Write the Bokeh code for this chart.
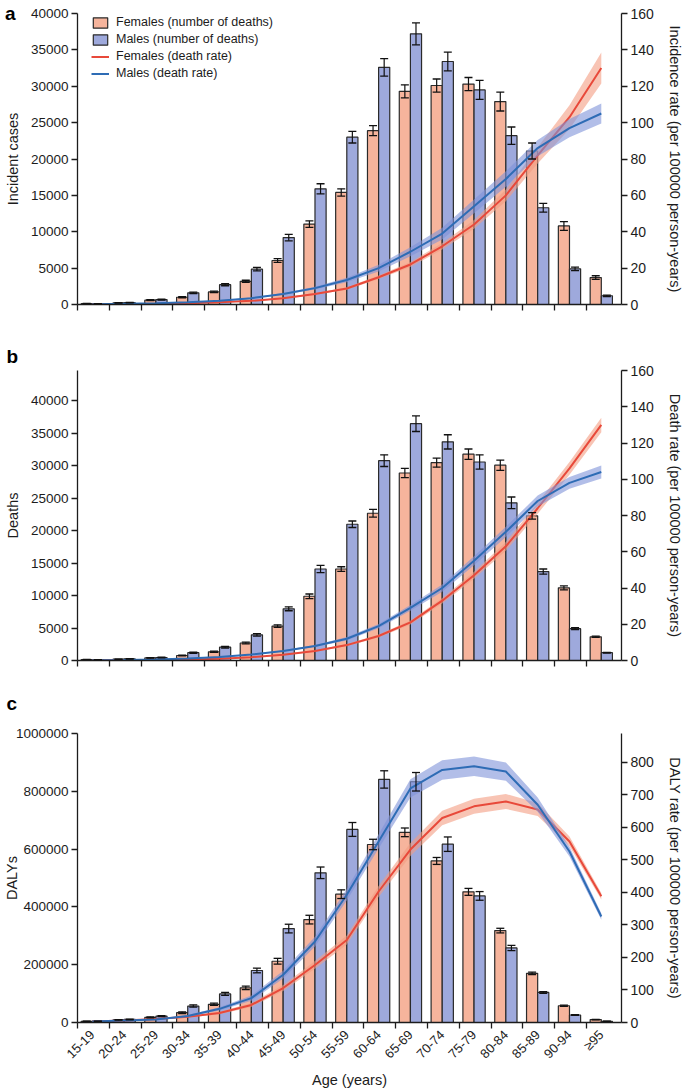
import numpy as np
from bokeh.plotting import figure
from bokeh.models import (ColumnDataSource, Range1d, LinearAxis, FixedTicker,
                          NumeralTickFormatter, CustomJSTickFormatter, Whisker,
                          TeeHead, Legend, LegendItem)
from bokeh.layouts import column
from bokeh.embed import file_html
from bokeh.resources import INLINE

ages = ["15-19", "20-24", "25-29", "30-34", "35-39", "40-44", "45-49", "50-54",
        "55-59", "60-64", "65-69", "70-74", "75-79", "80-84", "85-89", "90-94", "≥95"]

# Panel a: incident cases and incidence rate
inc_f = [120, 220, 600, 1000, 1730, 3180, 6050, 11050, 15400, 23900, 29300, 30100, 30300, 27900, 21100, 10800, 3700]
inc_f_err = [20, 30, 50, 70, 100, 150, 250, 450, 500, 700, 900, 900, 900, 1300, 1100, 600, 250]
inc_m = [90, 250, 680, 1600, 2730, 4860, 9200, 15900, 23000, 32600, 37200, 33400, 29500, 23200, 13300, 4900, 1200]
inc_m_err = [20, 30, 60, 100, 150, 250, 450, 700, 800, 1200, 1500, 1300, 1300, 1200, 600, 250, 100]
inc_rate_f = [0.1, 0.2, 0.4, 0.7, 1.2, 2.0, 3.5, 5.8, 8.8, 15, 22, 32, 44, 60, 82, 103, 130]
inc_rate_f_ci = [0.02, 0.03, 0.05, 0.08, 0.12, 0.2, 0.3, 0.5, 0.7, 1.0, 1.4, 1.8, 2.4, 3.2, 4.5, 6.5, 8.5]
inc_rate_m = [0.2, 0.4, 0.7, 1.2, 2.0, 3.5, 5.8, 9.0, 13.5, 20, 29, 39, 54, 69, 86, 97, 105]
inc_rate_m_ci = [0.03, 0.05, 0.08, 0.12, 0.2, 0.3, 0.5, 0.8, 1.2, 1.8, 2.5, 3.2, 3.8, 4.2, 4.5, 5.0, 5.5]

# Panel b: deaths and death rate
dth_f = [150, 200, 400, 770, 1340, 2700, 5300, 9900, 14100, 22700, 28900, 30500, 31800, 30100, 22300, 11200, 3650]
dth_f_err = [20, 25, 40, 60, 90, 130, 200, 350, 350, 600, 700, 700, 800, 800, 500, 300, 100]
dth_m = [100, 250, 450, 1200, 2050, 3950, 7970, 14100, 21000, 30800, 36500, 33700, 30600, 24300, 13700, 4900, 1200]
dth_m_err = [20, 30, 50, 80, 120, 180, 300, 550, 500, 900, 1200, 1100, 1100, 900, 400, 150, 50]
dth_rate_f = [0.1, 0.2, 0.3, 0.6, 1.0, 1.8, 3.2, 5.2, 8.5, 13.5, 21, 33, 47, 63, 84, 106, 130]
dth_rate_f_ci = [0.02, 0.03, 0.04, 0.06, 0.1, 0.15, 0.25, 0.4, 0.6, 0.8, 1.1, 1.5, 1.9, 2.4, 3.0, 3.5, 4.0]
dth_rate_m = [0.1, 0.3, 0.6, 1.1, 1.9, 3.3, 5.3, 8.0, 12, 19, 29, 40, 55, 71, 88, 98, 104]
dth_rate_m_ci = [0.02, 0.04, 0.06, 0.1, 0.15, 0.25, 0.4, 0.6, 0.9, 1.2, 1.6, 2.0, 2.5, 2.8, 3.0, 3.3, 3.6]

# Panel c: DALYs and DALY rate
daly_f = [4000, 9000, 18000, 34000, 63000, 120000, 212000, 356000, 444000, 616000, 658000, 559000, 452000, 318000, 170000, 58000, 10000]
daly_f_err = [500, 800, 1500, 3000, 4000, 6000, 10000, 15000, 15000, 18000, 15000, 12000, 12000, 8000, 4000, 2000, 700]
daly_m = [4500, 10500, 22000, 57000, 99000, 180000, 325000, 518000, 668000, 841000, 833000, 617000, 438000, 258000, 104000, 26000, 4000]
daly_m_err = [500, 900, 2000, 4000, 5000, 8000, 15000, 20000, 24000, 30000, 32000, 25000, 15000, 9000, 3000, 1500, 500]
daly_rate_f = [3, 6, 11, 18, 29, 54, 106, 177, 254, 403, 532, 629, 665, 680, 655, 557, 388]
daly_rate_f_ci = [0.5, 1, 1.5, 2.5, 4, 6, 9, 12, 14, 17, 20, 22, 23, 23, 20, 15, 10]
daly_rate_m = [3, 6, 9, 20, 42, 75, 147, 249, 393, 557, 720, 777, 788, 772, 670, 526, 326]
daly_rate_m_ci = [0.5, 1, 1.5, 3, 5, 8, 12, 15, 18, 22, 28, 30, 30, 28, 22, 15, 10]

FONT = "Liberation Sans"
INK = "#1c1c1c"
F_BAR, M_BAR = "#F6B49C", "#9EA9DC"
F_LINE, M_LINE = "#E8493A", "#2E6CB5"
F_BAND, M_BAND = "#F39C82", "#7F93D8"
F_OFF, M_OFF, L_OFF, BAR_W = 0.29, 0.64, 0.465, 0.35


def style_axis(ax, size="13.5px"):
    ax.axis_line_color = INK
    ax.axis_line_width = 1.3
    ax.major_tick_line_color = INK
    ax.major_tick_line_width = 1.3
    ax.major_tick_out = 6
    ax.major_tick_in = 0
    ax.minor_tick_line_color = None
    ax.major_label_text_font = FONT
    ax.major_label_text_font_size = size
    ax.major_label_text_color = INK
    ax.major_label_standoff = 3
    ax.axis_label_text_font = FONT
    ax.axis_label_text_font_size = "14.5px"
    ax.axis_label_text_font_style = "normal"
    ax.axis_label_text_color = INK


def panel(letter, letter_standoff, cf, cf_err, cm, cm_err, rf, rf_ci, rm, rm_ci,
          y_max, y_ticks, y_label, y_standoff, r_max, r_ticks, r_label,
          frame_h, top, bottom, show_x_labels):
    n = len(ages)
    idx = np.arange(n)
    cf, cf_err, cm, cm_err = map(np.array, (cf, cf_err, cm, cm_err))
    rf, rf_ci, rm, rm_ci = map(np.array, (rf, rf_ci, rm, rm_ci))
    src = ColumnDataSource(dict(
        xf=idx + F_OFF, xm=idx + M_OFF, xl=idx + L_OFF,
        cf=cf, cf_lo=cf - cf_err, cf_hi=cf + cf_err,
        cm=cm, cm_lo=cm - cm_err, cm_hi=cm + cm_err,
        rf=rf, rf_lo=rf - rf_ci, rf_hi=rf + rf_ci,
        rm=rm, rm_lo=rm - rm_ci, rm_hi=rm + rm_ci,
    ))
    p = figure(frame_width=544, frame_height=frame_h,
               x_range=Range1d(0, 17.1), y_range=Range1d(0, y_max),
               output_backend="svg", toolbar_location=None,
               min_border_left=71, min_border_right=56,
               min_border_top=top, min_border_bottom=bottom)
    p.outline_line_color = None
    p.grid.visible = False
    p.extra_y_ranges = {"rate": Range1d(0, r_max)}

    # x axis: boundary ticks (minor), labels centred on groups
    xa = p.xaxis[0]
    style_axis(xa, "13px")
    xa.ticker = FixedTicker(ticks=list(idx + L_OFF), minor_ticks=list(range(n)))
    xa.major_tick_out = 0
    xa.minor_tick_line_color = INK
    xa.minor_tick_line_width = 1.3
    xa.minor_tick_out = 6
    xa.minor_tick_in = 0
    if show_x_labels:
        xa.formatter = CustomJSTickFormatter(args=dict(labels=ages),
                                             code="return labels[Math.floor(tick)] || ''")
        xa.major_label_orientation = np.pi / 4
        xa.major_label_standoff = 4
        xa.axis_label = "Age (years)"
        xa.axis_label_standoff = 2
    else:
        xa.formatter = CustomJSTickFormatter(code="return ''")

    ya = p.yaxis[0]
    style_axis(ya)
    ya.ticker = FixedTicker(ticks=y_ticks)
    ya.formatter = NumeralTickFormatter(format="0")

    if letter_standoff is None:
        # panel letter drawn as the (only) tick label of an outer, invisible left axis,
        # which also carries the axis title
        outer = LinearAxis(ticker=FixedTicker(ticks=[y_max]),
                           formatter=CustomJSTickFormatter(args=dict(t=letter), code="return t"))
        style_axis(outer, "19px")
        outer.axis_line_color = None
        outer.major_tick_line_color = None
        outer.major_tick_out = 0
        outer.major_label_standoff = 12
        outer.major_label_text_font_style = "bold"
        outer.major_label_text_color = "#000000"
        outer.axis_label = y_label
        outer.axis_label_standoff = -19
        p.add_layout(outer, "left")
    else:
        ya.axis_label = y_label
        ya.axis_label_standoff = y_standoff
        p.title.text = letter
        p.title.align = "left"
        p.title.offset = -71
        p.title.standoff = letter_standoff
        p.title.vertical_align = "bottom"
        p.title.text_font = FONT
        p.title.text_font_size = "19px"
        p.title.text_font_style = "bold"
        p.title.text_color = "#000000"

    ra = LinearAxis(y_range_name="rate", ticker=FixedTicker(ticks=r_ticks),
                    formatter=NumeralTickFormatter(format="0"), axis_label=r_label)
    style_axis(ra, "14px")
    ra.axis_label_standoff = 10
    p.add_layout(ra, "right")

    bf = p.vbar(x="xf", top="cf", width=BAR_W, source=src, fill_color=F_BAR,
                line_color="#2a2a2a", line_width=1.2)
    bm = p.vbar(x="xm", top="cm", width=BAR_W, source=src, fill_color=M_BAR,
                line_color="#2a2a2a", line_width=1.2)
    for base, lo, hi in (("xf", "cf_lo", "cf_hi"), ("xm", "cm_lo", "cm_hi")):
        w = Whisker(source=src, base=base, lower=lo, upper=hi, dimension="height",
                    line_color="#111111", line_width=1.2, level="annotation",
                    upper_head=TeeHead(size=8, line_color="#111111", line_width=1.3),
                    lower_head=TeeHead(size=8, line_color="#111111", line_width=1.3))
        p.add_layout(w)

    p.varea(x="xl", y1="rf_lo", y2="rf_hi", source=src, y_range_name="rate",
            fill_color=F_BAND, fill_alpha=0.6)
    lf = p.line(x="xl", y="rf", source=src, y_range_name="rate",
                line_color=F_LINE, line_width=2)
    p.varea(x="xl", y1="rm_lo", y2="rm_hi", source=src, y_range_name="rate",
            fill_color=M_BAND, fill_alpha=0.6)
    lm = p.line(x="xl", y="rm", source=src, y_range_name="rate",
                line_color=M_LINE, line_width=2)
    return p, (bf, bm, lf, lm)


pa, (bf, bm, lf, lm) = panel(
    "a", None, inc_f, inc_f_err, inc_m, inc_m_err, inc_rate_f, inc_rate_f_ci,
    inc_rate_m, inc_rate_m_ci, 40000, list(range(0, 40001, 5000)), "Incident cases", 7,
    160, list(range(0, 161, 20)), "Incidence rate (per 100000 person-years)",
    291, 13, 30, False)

legend = Legend(items=[
    LegendItem(label="Females (number of deaths)", renderers=[bf]),
    LegendItem(label="Males (number of deaths)", renderers=[bm]),
    LegendItem(label="Females (death rate)", renderers=[lf]),
    LegendItem(label="Males (death rate)", renderers=[lm]),
], location=(14, 224), orientation="vertical", padding=0, margin=0, spacing=3,
    glyph_width=18, glyph_height=13, label_height=14, label_standoff=7,
    label_text_font=FONT, label_text_font_size="12.5px", label_text_color=INK,
    background_fill_alpha=0, border_line_alpha=0)
pa.add_layout(legend)

pb, _ = panel(
    "b", 8, dth_f, dth_f_err, dth_m, dth_m_err, dth_rate_f, dth_rate_f_ci,
    dth_rate_m, dth_rate_m_ci, 44700, list(range(0, 40001, 5000)), "Deaths", 7,
    160, list(range(0, 161, 20)), "Death rate (per 100000 person-years)",
    290, 36, 10, False)

pc, _ = panel(
    "c", 40, daly_f, daly_f_err, daly_m, daly_m_err, daly_rate_f, daly_rate_f_ci,
    daly_rate_m, daly_rate_m_ci, 1000000, list(range(0, 1000001, 200000)), "DALYs", -7,
    889, list(range(0, 801, 100)), "DALY rate (per 100000 person-years)",
    289, 61, 59, True)

layout = column(pa, pb, pc, spacing=0)
open("out.html", "w").write(file_html(layout, INLINE))
